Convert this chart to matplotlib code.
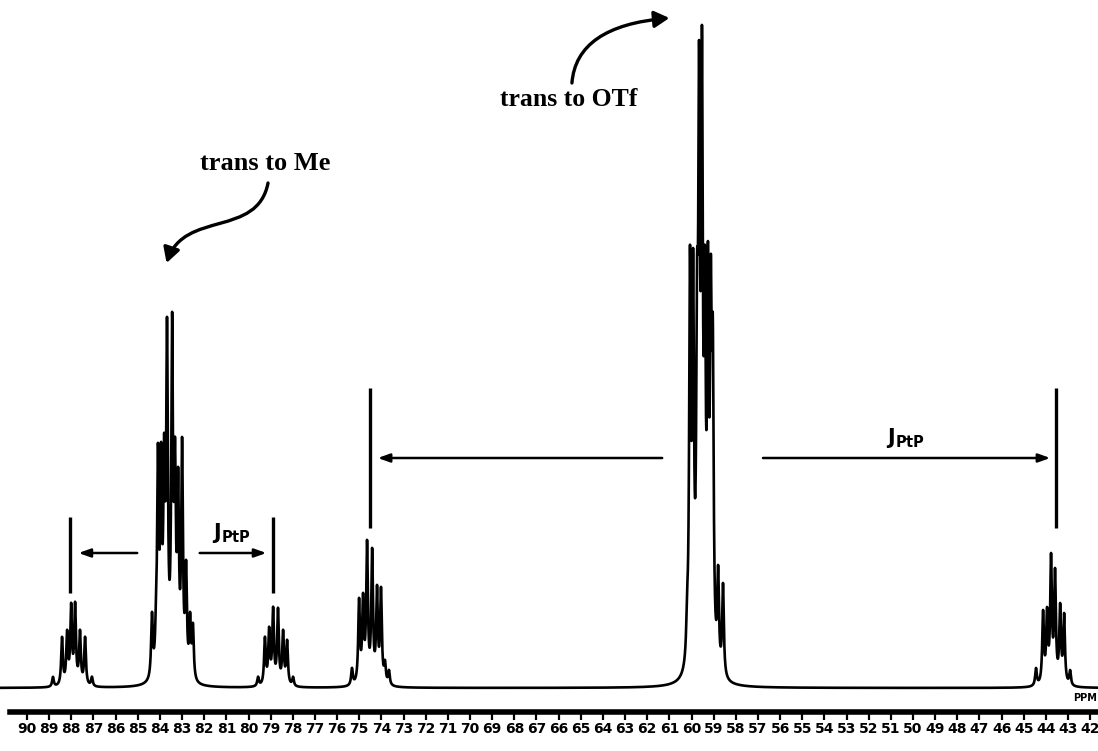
#!/usr/bin/env python3
"""Redraw the 31P NMR spectrum with the Pt satellites and J(PtP) markers."""

import matplotlib

matplotlib.use("Agg")
import matplotlib.pyplot as plt
import numpy as np
from matplotlib.patches import FancyArrowPatch
from matplotlib.path import Path

# line lists: position (ppm) and apparent height (baseline = 0)
sat_left_ppm = [88.83, 88.42, 88.19, 88.01, 87.83, 87.61, 87.38, 87.07]
sat_left_h = [11, 51, 58, 85, 86, 58, 51, 11]

me_ppm = [84.36, 84.18, 84.09, 83.95, 83.81, 83.68, 83.45, 83.32, 83.18, 83.00, 82.82, 82.64, 82.51]
me_h = [76, 88, 245, 246, 255, 371, 376, 251, 221, 251, 128, 76, 65]

sat_right_ppm = [79.57, 79.26, 79.07, 78.89, 78.67, 78.44, 78.26, 77.99]
sat_right_h = [11, 51, 61, 81, 80, 58, 48, 11]

sat75_ppm = [75.33, 75.01, 74.83, 74.65, 74.42, 74.20, 74.02, 73.84, 73.66]
sat75_h = [20, 90, 95, 148, 140, 103, 101, 28, 18]

otf_ppm = [60.20, 60.07, 59.93, 59.75, 59.66, 59.53, 59.40, 59.26, 59.13, 59.04, 58.80, 58.58]
otf_h = [99, 443, 440, 434, 648, 663, 443, 447, 434, 373, 123, 105]

sat44_ppm = [44.45, 44.13, 43.95, 43.77, 43.59, 43.36, 43.18, 42.91]
sat44_h = [20, 78, 81, 135, 120, 85, 75, 18]

# J(PtP) marker bars
short_bar_ppm = [88.06, 78.89]
long_bar_ppm = [74.51, 43.54]

tick_ppm = list(range(90, 41, -1))

HWHM = 0.045


def lorentz(d):
    return HWHM**2 / (d**2 + HWHM**2)


def spectrum(ppm_grid):
    y = np.zeros_like(ppm_grid)
    groups = [
        (sat_left_ppm, sat_left_h),
        (me_ppm, me_h),
        (sat_right_ppm, sat_right_h),
        (sat75_ppm, sat75_h),
        (otf_ppm, otf_h),
        (sat44_ppm, sat44_h),
    ]
    for pos, hts in groups:
        pos = np.asarray(pos)
        # amplitudes so the summed curve reaches the read heights at each line
        amp = np.linalg.solve(lorentz(pos[:, None] - pos[None, :]), np.asarray(hts, float))
        for p, a in zip(pos, amp):
            y += a * lorentz(ppm_grid - p)
    return y


def curved_arrow(ax, verts, codes):
    patch = FancyArrowPatch(
        path=Path(verts, codes),
        arrowstyle="-|>,head_length=9,head_width=5",
        lw=2.4,
        color="black",
    )
    ax.add_patch(patch)


def main():
    fig = plt.figure(figsize=(10.98, 7.51), dpi=100)
    ax = fig.add_axes([0, 39 / 751, 1, 712 / 751])

    grid = np.linspace(91.2, 41.6, 40000)
    ax.plot(grid, spectrum(grid), color="black", lw=1.9)

    ax.set_xlim(91.22, 41.65)
    ax.set_ylim(-24, 688)

    # axis styled like the old plotter scale
    for side in ("top", "left", "right"):
        ax.spines[side].set_visible(False)
    ax.spines["bottom"].set_linewidth(4)
    ax.spines["bottom"].set_bounds(90.75, 41.65)
    ax.set_yticks([])
    ax.set_xticks(tick_ppm)
    ax.set_xticklabels([str(t) for t in tick_ppm], fontsize=10, fontweight="bold")
    ax.tick_params(axis="x", direction="out", length=6, width=1.6, pad=1)
    ax.text(41.7, -10, "PPM", fontsize=7, fontweight="bold", ha="right", va="center")

    # coupling bars and arrows
    ax.vlines(short_bar_ppm, 95, 171, color="black", lw=2.4)
    ax.vlines(long_bar_ppm, 160, 300, color="black", lw=2.4)
    arrow_kw = dict(arrowstyle="-|>,head_length=0.7,head_width=0.25", lw=1.8, color="black")
    ax.annotate("", xy=(87.8, 135), xytext=(84.9, 135), arrowprops=arrow_kw)
    ax.annotate("", xy=(79.07, 135), xytext=(82.33, 135), arrowprops=arrow_kw)
    ax.annotate("", xy=(74.29, 230), xytext=(61.2, 230), arrowprops=arrow_kw)
    ax.annotate("", xy=(43.68, 230), xytext=(56.9, 230), arrowprops=arrow_kw)
    ax.text(80.75, 143, r"$\mathbf{J_{PtP}}$", fontsize=15, ha="center", va="bottom")
    ax.text(50.36, 238, r"$\mathbf{J_{PtP}}$", fontsize=15, ha="center", va="bottom")

    # assignment labels
    ax.text(79.25, 525, "trans to Me", family="Liberation Serif", fontweight="bold",
            fontsize=19, ha="center", va="center")
    ax.text(65.55, 588, "trans to OTf", family="Liberation Serif", fontweight="bold",
            fontsize=18.5, ha="center", va="center")
    curved_arrow(
        ax,
        [(79.12, 505), (79.6, 450), (82.9, 478), (83.7, 425)],
        [Path.MOVETO, Path.CURVE4, Path.CURVE4, Path.CURVE4],
    )
    curved_arrow(
        ax,
        [(65.4, 605), (65.2, 662), (61.0, 670)],
        [Path.MOVETO, Path.CURVE3, Path.CURVE3],
    )

    fig.savefig("out.png", dpi=100)


if __name__ == "__main__":
    main()
